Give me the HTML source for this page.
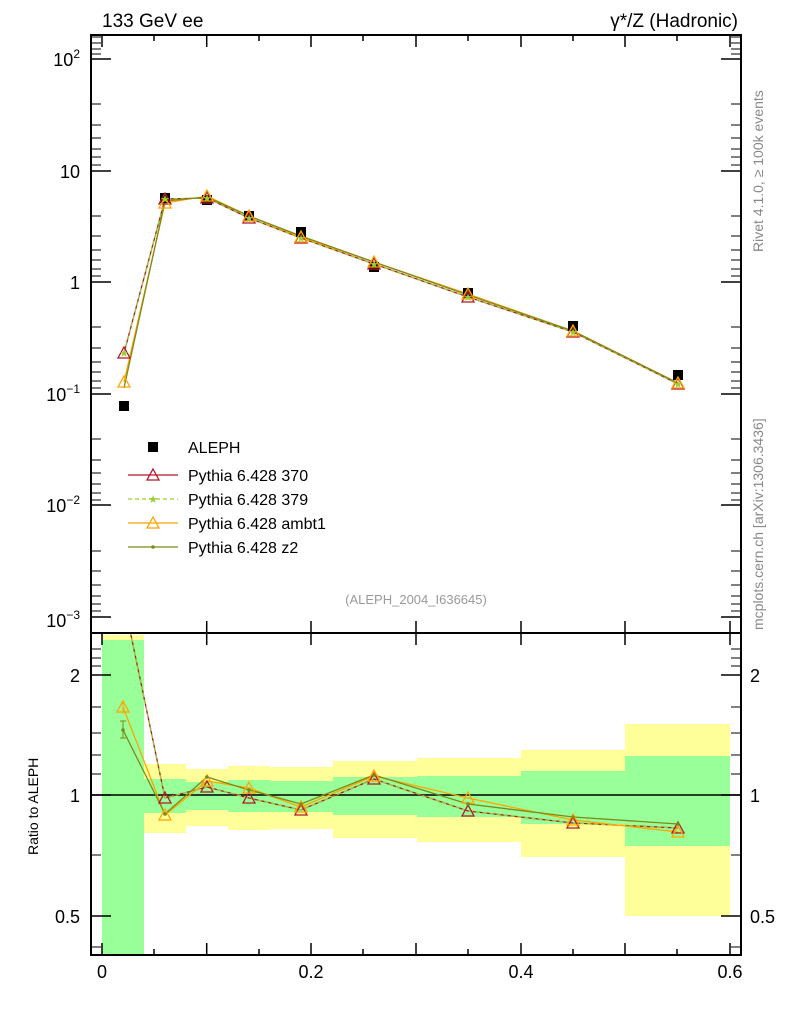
<!DOCTYPE html>
<html><head><meta charset="utf-8"><style>body{margin:0;background:#fff}svg{display:block}text{font-family:"Liberation Sans",sans-serif}</style></head>
<body>
<svg width="786" height="1024" viewBox="0 0 786 1024" xmlns="http://www.w3.org/2000/svg">
<defs>
<g id="tri"><polygon points="0,-6 6,5 -6,5" fill="none" stroke-width="1.3"/></g>
<clipPath id="rc"><rect x="91" y="634" width="650" height="321"/></clipPath>
</defs>
<!-- ratio bands -->
<g>
<rect x="102" y="635" width="42" height="5" fill="#ffff99"/>
<rect x="102" y="640" width="42" height="315" fill="#99ff99"/>
<rect x="144" y="764" width="42" height="69" fill="#ffff99"/><rect x="144" y="779" width="42" height="34" fill="#99ff99"/>
<rect x="186" y="769" width="42" height="57" fill="#ffff99"/><rect x="186" y="782" width="42" height="28" fill="#99ff99"/>
<rect x="228" y="766" width="42" height="64" fill="#ffff99"/><rect x="228" y="780" width="42" height="32" fill="#99ff99"/>
<rect x="270" y="767" width="63" height="62" fill="#ffff99"/><rect x="270" y="781" width="63" height="31" fill="#99ff99"/>
<rect x="333" y="761" width="84" height="77" fill="#ffff99"/><rect x="333" y="777" width="84" height="38" fill="#99ff99"/>
<rect x="417" y="758" width="104" height="84" fill="#ffff99"/><rect x="417" y="776" width="104" height="41" fill="#99ff99"/>
<rect x="521" y="750" width="104" height="107" fill="#ffff99"/><rect x="521" y="771" width="104" height="53" fill="#99ff99"/>
<rect x="625" y="724" width="105" height="192" fill="#ffff99"/><rect x="625" y="756" width="105" height="90" fill="#99ff99"/>
</g>
<line x1="91" y1="795" x2="741" y2="795" stroke="#000" stroke-width="1.5"/>
<!-- ratio lines -->
<g clip-path="url(#rc)">
<polyline fill="none" stroke="#b2182b" stroke-width="1.3" points="123,597 165,798 207,787 249,798 301,810 374,779 468,811 573,823 678,828"/>
<polyline fill="none" stroke="#9acd32" stroke-width="1.3" stroke-dasharray="4,3" points="123,597 165,798 207,787 249,798 301,810 374,779 468,811 573,823 678,828"/>
<polyline fill="none" stroke="#ffa500" stroke-width="1.3" points="123,707 165,815 207,781 249,788 301,807 374,776 468,798 573,820 678,832"/>
<polyline fill="none" stroke="#7b8a1a" stroke-width="1.3" points="123,730 165,814 207,777 249,790 301,804 374,775 468,804 573,817 678,824"/>
</g>
<g stroke="#b2182b"><use href="#tri" x="165" y="798"/><use href="#tri" x="207" y="787"/><use href="#tri" x="249" y="798"/><use href="#tri" x="301" y="810"/><use href="#tri" x="374" y="779"/><use href="#tri" x="468" y="811"/><use href="#tri" x="573" y="823"/><use href="#tri" x="678" y="828"/></g>
<g stroke="#ffa500"><use href="#tri" x="123" y="707"/><use href="#tri" x="165" y="815"/><use href="#tri" x="207" y="781"/><use href="#tri" x="249" y="788"/><use href="#tri" x="301" y="807"/><use href="#tri" x="374" y="776"/><use href="#tri" x="468" y="798"/><use href="#tri" x="573" y="820"/><use href="#tri" x="678" y="832"/></g>
<g stroke="#ffa500" stroke-width="1"><line x1="123" y1="700" x2="123" y2="714"/></g>
<g stroke="#7b8a1a" stroke-width="1"><line x1="123" y1="721" x2="123" y2="738"/><line x1="120" y1="721" x2="126" y2="721"/><line x1="120" y1="738" x2="126" y2="738"/></g>
<g fill="#7b8a1a"><circle cx="123" cy="730" r="1.8"/><circle cx="165" cy="814" r="1.8"/><circle cx="207" cy="777" r="1.8"/><circle cx="249" cy="790" r="1.8"/><circle cx="301" cy="804" r="1.8"/><circle cx="374" cy="775" r="1.8"/><circle cx="468" cy="804" r="1.8"/><circle cx="573" cy="817" r="1.8"/><circle cx="678" cy="824" r="1.8"/></g>

<!-- top panel lines -->
<polyline fill="none" stroke="#b2182b" stroke-width="1.3" points="124,353 165,199 207,198 249,218 301,238 374,264 468,297 573,332 678,384"/>
<polyline fill="none" stroke="#9acd32" stroke-width="1.3" stroke-dasharray="4,3" points="124,353 165,199 207,198 249,218 301,238 374,264 468,297 573,332 678,384"/>
<polyline fill="none" stroke="#ffa500" stroke-width="1.3" points="124,382 165,203 207,196 249,216 301,237 374,262 468,294 573,331 678,383"/>
<polyline fill="none" stroke="#7b8a1a" stroke-width="1.3" points="124,388 165,201 207,197 249,216 301,236 374,262 468,295 573,331 678,383"/>
<g fill="#000"><rect x="119" y="401" width="10" height="10"/><rect x="160" y="193" width="10" height="10"/><rect x="202" y="195" width="10" height="10"/><rect x="244" y="211" width="10" height="10"/><rect x="296" y="227" width="10" height="10"/><rect x="369" y="262" width="10" height="10"/><rect x="463" y="288" width="10" height="10"/><rect x="568" y="321" width="10" height="10"/><rect x="673" y="370" width="10" height="10"/></g>
<g stroke="#b2182b"><use href="#tri" x="124" y="353"/><use href="#tri" x="165" y="199"/><use href="#tri" x="207" y="198"/><use href="#tri" x="249" y="218"/><use href="#tri" x="301" y="238"/><use href="#tri" x="374" y="264"/><use href="#tri" x="468" y="297"/><use href="#tri" x="573" y="332"/><use href="#tri" x="678" y="384"/></g>
<g stroke="#ffa500"><use href="#tri" x="124" y="382"/><use href="#tri" x="165" y="203"/><use href="#tri" x="207" y="196"/><use href="#tri" x="249" y="216"/><use href="#tri" x="301" y="237"/><use href="#tri" x="374" y="262"/><use href="#tri" x="468" y="294"/><use href="#tri" x="573" y="331"/><use href="#tri" x="678" y="383"/></g>
<g fill="#9acd32" font-size="11" text-anchor="middle"><text x="124" y="357">★</text><text x="165" y="203">★</text><text x="207" y="202">★</text><text x="249" y="222">★</text><text x="301" y="242">★</text><text x="374" y="268">★</text><text x="468" y="301">★</text><text x="573" y="336">★</text><text x="678" y="388">★</text></g>

<!-- legend -->
<rect x="148" y="442" width="10" height="10" fill="#000"/>
<text x="188" y="453" font-size="16">ALEPH</text>
<line x1="128" y1="475" x2="178" y2="475" stroke="#b2182b" stroke-width="1.3"/><use href="#tri" x="153" y="475" stroke="#b2182b"/>
<text x="188" y="481" font-size="16">Pythia 6.428 370</text>
<line x1="128" y1="499" x2="178" y2="499" stroke="#9acd32" stroke-width="1.3" stroke-dasharray="4,3"/><text x="153" y="503" font-size="11" fill="#9acd32" text-anchor="middle">★</text>
<text x="188" y="505" font-size="16">Pythia 6.428 379</text>
<line x1="128" y1="523" x2="178" y2="523" stroke="#ffa500" stroke-width="1.3"/><use href="#tri" x="153" y="523" stroke="#ffa500"/>
<text x="188" y="529" font-size="16">Pythia 6.428 ambt1</text>
<line x1="128" y1="547" x2="178" y2="547" stroke="#7b8a1a" stroke-width="1.3"/><circle cx="153" cy="547" r="1.8" fill="#7b8a1a"/>
<text x="188" y="553" font-size="16">Pythia 6.428 z2</text>
<text x="416" y="604" font-size="13" fill="#999" text-anchor="middle">(ALEPH_2004_I636645)</text>

<!-- frames -->
<rect x="91" y="35" width="650" height="920" fill="none" stroke="#000" stroke-width="2"/>
<line x1="91" y1="633" x2="741" y2="633" stroke="#000" stroke-width="2"/>
<g stroke="#000" stroke-width="1.5">
<path d="M102,955v-12M206.7,955v-12M311,955v-12M416,955v-12M521,955v-12M625,955v-12M730,955v-12M154,955v-6M259,955v-6M363,955v-6M468,955v-6M573,955v-6M677,955v-6
M102,633v12M206.7,633v-12M311,633v-12M416,633v-12M521,633v-12M625,633v-12M730,633v-12M102,35v12M206.7,35v12M311,35v12M416,35v12M521,35v12M625,35v12M730,35v12M154,35v6M259,35v6M363,35v6M468,35v6M573,35v6M677,35v6
M206.7,633v12M311,633v12M416,633v12M521,633v12M625,633v12M730,633v12"/>
<path d="M91,59h20M91,171h20M91,282h20M91,394h20M91,505h20M91,617h20M741,59h-20M741,171h-20M741,282h-20M741,394h-20M741,505h-20M741,617h-20"/>
<path d="M91,675h20M91,795h20M91,916h20M741,675h-20M741,795h-20M741,916h-20"/>
</g>
<g stroke="#000" stroke-width="1">
<path id="mt" d="M91,37h10M91,43h10M91,49h10M91,54h10M91,104h10M91,125h10M91,138h10M91,149h10M91,157h10M91,165h10M91,216h10M91,236h10M91,250h10M91,260h10M91,269h10M91,276h10M91,327h10M91,348h10M91,362h10M91,372h10M91,381h10M91,388h10M91,439h10M91,460h10M91,473h10M91,484h10M91,493h10M91,500h10M91,551h10M91,571h10M91,585h10M91,596h10M91,604h10M91,611h10
M91,649h10M91,658h10M91,666h10M91,707h10M91,733h10M91,755h10M91,774h10M91,855h10M91,947h10"/>
<use href="#mt" transform="translate(832,0) scale(-1,1)"/>
</g>

<!-- labels -->
<g font-size="18" text-anchor="end">
<text x="80" y="66">10<tspan font-size="12" dy="-8">2</tspan></text>
<text x="80" y="178">10</text>
<text x="80" y="289">1</text>
<text x="80" y="401">10<tspan font-size="12" dy="-8">−1</tspan></text>
<text x="80" y="512">10<tspan font-size="12" dy="-8">−2</tspan></text>
<text x="80" y="627">10<tspan font-size="12" dy="-8">−3</tspan></text>
<text x="80" y="682">2</text><text x="80" y="802">1</text><text x="80" y="923">0.5</text>
</g>
<g font-size="18"><text x="750" y="682">2</text><text x="750" y="802">1</text><text x="750" y="923">0.5</text></g>
<g font-size="18" text-anchor="middle"><text x="102" y="978">0</text><text x="311" y="978">0.2</text><text x="521" y="978">0.4</text><text x="730" y="978">0.6</text></g>
<text x="102" y="27" font-size="19">133 GeV ee</text>
<text x="738" y="27" font-size="19" text-anchor="end">γ*/Z (Hadronic)</text>
<text transform="translate(38,855) rotate(-90)" font-size="14">Ratio to ALEPH</text>
<text transform="translate(763,252) rotate(-90)" font-size="14" fill="#888">Rivet 4.1.0, ≥ 100k events</text>
<text transform="translate(763,630) rotate(-90)" font-size="14" fill="#888">mcplots.cern.ch [arXiv:1306.3436]</text>
</svg>
</body></html>
